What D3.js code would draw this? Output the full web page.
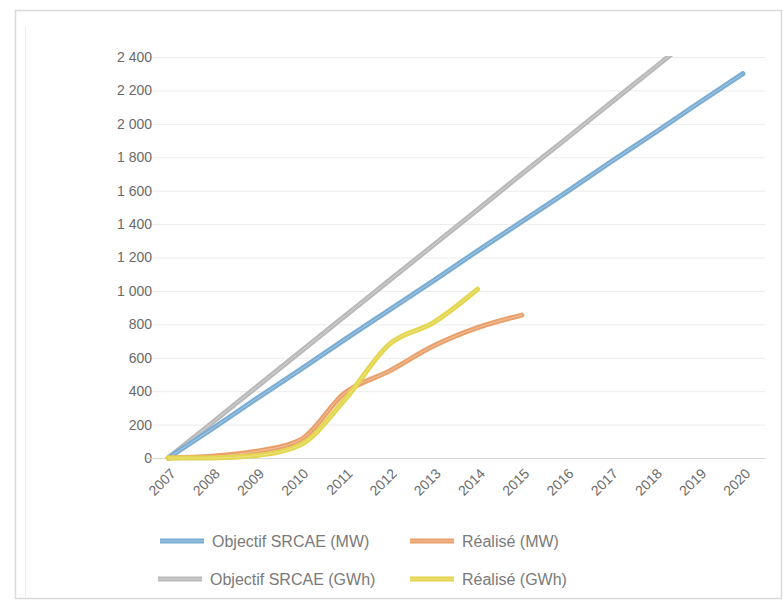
<!DOCTYPE html>
<html>
<head>
<meta charset="utf-8">
<script src="https://cdn.jsdelivr.net/npm/d3@7"></script>
<style>
  html, body { margin: 0; padding: 0; background: #ffffff; }
  svg { display: block; }
</style>
</head>
<body>
<svg id="chart" width="783" height="607"></svg>
<script>
// ---- data ----
const years = ["2007","2008","2009","2010","2011","2012","2013","2014","2015","2016","2017","2018","2019","2020"];
const objectifMW  = [0, 175, 355, 530, 710, 885, 1060, 1240, 1415, 1590, 1770, 1945, 2125, 2300];
const objectifGWh = [0, 212, 425, 637, 850, 1062, 1274, 1486, 1700, 1910, 2123, 2335, 2548, 2760];
const realiseMW   = [0, 10, 40, 110, 390, 520, 670, 780, 855];
const realiseGWh  = [0, 0, 15, 80, 350, 680, 810, 1010];
const yTicks = [0, 200, 400, 600, 800, 1000, 1200, 1400, 1600, 1800, 2000, 2200, 2400];

const series = [
  { name: "Objectif SRCAE (MW)",  values: objectifMW,  color: "#79acd3" },
  { name: "Réalisé (MW)",         values: realiseMW,   color: "#e9a06a" },
  { name: "Objectif SRCAE (GWh)", values: objectifGWh, color: "#b9b9b9" },
  { name: "Réalisé (GWh)",        values: realiseGWh,  color: "#e3d54c" }
];
const drawOrder = [2, 0, 1, 3];

// ---- layout ----
const svg = d3.select("#chart");
const plot = { left: 146, right: 765, top: 57, bottom: 458 };
const font = "'Liberation Sans', Arial, sans-serif";

// frame
svg.append("rect").attr("x", 15.5).attr("y", 10.5).attr("width", 766).attr("height", 588)
  .attr("fill", "#ffffff").attr("stroke", "#d9d9d9").attr("stroke-width", 1.5);
svg.append("line").attr("x1", 25.5).attr("x2", 25.5).attr("y1", 26).attr("y2", 596)
  .attr("stroke", "#ececec").attr("stroke-width", 1);

const x = d3.scaleBand().domain(years).range([plot.left, plot.right]).padding(0);
const y = d3.scaleLinear().domain([0, 2400]).range([plot.bottom, plot.top]);
const cx = d => x(d) + x.bandwidth() / 2;

// gridlines + y labels
const yAxis = d3.axisLeft(y).tickValues(yTicks).tickSize(-(plot.right - plot.left))
  .tickFormat(d => d3.format(",")(d).replace(/,/g, " "));
const gy = svg.append("g").attr("transform", `translate(${plot.left},0)`).call(yAxis);
gy.select(".domain").remove();
gy.selectAll(".tick line").attr("stroke", "#ececec").attr("stroke-width", 1);
gy.selectAll(".tick text")
  .attr("text-anchor", "end")
  .attr("x", 152 - plot.left)
  .attr("font-family", font).attr("font-size", 14).attr("fill", "#6a6a6a");
gy.selectAll(".tick").filter(d => d === 0).select("line").attr("stroke", "#d6d6d6");

// x axis
const xAxis = d3.axisBottom(x).tickSize(0);
const gx = svg.append("g").attr("transform", `translate(0,${plot.bottom})`).call(xAxis);
gx.select(".domain").attr("stroke", "#d6d6d6");
gx.selectAll(".tick text")
  .attr("font-family", font).attr("font-size", 14).attr("fill", "#6a6a6a")
  .attr("text-anchor", "end")
  .attr("y", 0).attr("dy", "0.35em")
  .attr("transform", "translate(5,13) rotate(-45)");

// clip
svg.append("clipPath").attr("id", "clip").append("rect")
  .attr("x", plot.left).attr("y", plot.top - 1).attr("width", plot.right - plot.left).attr("height", plot.bottom - plot.top + 10);

const line = d3.line().x((d, i) => cx(years[i])).y(d => y(d)).curve(d3.curveMonotoneX);
const gl = svg.append("g").attr("clip-path", "url(#clip)");
drawOrder.forEach(k => {
  const s = series[k];
  gl.append("path").datum(s.values).attr("d", line)
    .attr("fill", "none").attr("stroke", s.color).attr("stroke-width", 5)
    .attr("stroke-linejoin", "round").attr("stroke-linecap", "round");
  gl.append("path").datum(s.values).attr("d", line)
    .attr("fill", "none").attr("stroke", "#ffffff").attr("stroke-opacity", 0.35).attr("stroke-width", 1);
});

// legend
const legendItems = [
  { s: series[0], x: 160, y: 541 },
  { s: series[1], x: 410, y: 541 },
  { s: series[2], x: 158, y: 579 },
  { s: series[3], x: 410, y: 579 }
];
const lg = svg.append("g");
legendItems.forEach(it => {
  lg.append("line").attr("x1", it.x).attr("x2", it.x + 44).attr("y1", it.y).attr("y2", it.y)
    .attr("stroke", it.s.color).attr("stroke-width", 5);
  lg.append("line").attr("x1", it.x).attr("x2", it.x + 44).attr("y1", it.y).attr("y2", it.y)
    .attr("stroke", "#ffffff").attr("stroke-opacity", 0.35).attr("stroke-width", 1);
  lg.append("text").attr("x", it.x + 52).attr("y", it.y).attr("dy", "0.35em")
    .attr("font-family", font).attr("font-size", 16).attr("fill", "#7a7a7a")
    .text(it.s.name);
});
</script>
</body>
</html>
